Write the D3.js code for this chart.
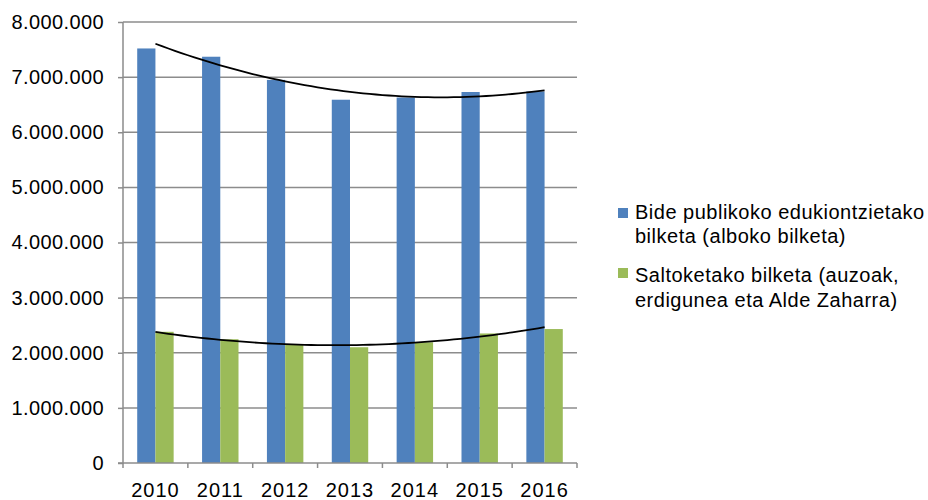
<!DOCTYPE html>
<html><head><meta charset="utf-8">
<script src="https://cdn.jsdelivr.net/npm/d3@7/dist/d3.min.js"></script>
<style>body{margin:0;background:#fff}svg{display:block}text{font-family:"Liberation Sans",Arial,sans-serif;fill:#000}</style>
</head><body><svg id="c" width="928" height="500"></svg>
<script>
const years = ["2010","2011","2012","2013","2014","2015","2016"];
const seriesNames = ["Bide publikoko edukiontzietako bilketa (alboko bilketa)", "Saltoketako bilketa (auzoak, erdigunea eta Alde Zaharra)"];
const legendLines = [["Bide publikoko edukiontzietako","bilketa (alboko bilketa)"],["Saltoketako bilketa (auzoak,","erdigunea eta Alde Zaharra)"]];
const blueValues = [7520000, 7370000, 6950000, 6590000, 6630000, 6730000, 6740000];
const greenValues = [2380000, 2245000, 2150000, 2100000, 2190000, 2350000, 2430000];
const yTicks = [0,1000000,2000000,3000000,4000000,5000000,6000000,7000000,8000000];
const colors = ["#4F81BD","#9BBB59"];

const svg = d3.select("#c");
const L=123, R=577, T=22, B=463;
const x = d3.scaleBand().domain(years).range([L,R]);
const x1 = d3.scaleBand().domain([0,1]).range([0, x.bandwidth()]).paddingOuter(0.78).paddingInner(0);
const y = d3.scaleLinear().domain([0,8000000]).range([B,T]);
const fmt = v => v===0 ? "0" : d3.format(",")(v).replace(/,/g,".");

// grid
svg.append("g").selectAll("line").data(yTicks.slice(1)).join("line")
  .attr("x1",L).attr("x2",R).attr("y1",d=>y(d)).attr("y2",d=>y(d))
  .attr("stroke","#8c8c8c").attr("stroke-width",1.5);

// bars
const series=[blueValues, greenValues];
series.forEach((vals,si)=>{
  svg.append("g").selectAll("rect").data(vals).join("rect")
    .attr("x",(d,i)=>x(years[i])+x1(si)).attr("width",x1.bandwidth())
    .attr("y",d=>y(d)).attr("height",d=>B-y(d)).attr("fill",colors[si]);
});

// axes
const yAxis = d3.axisLeft(y).tickValues(yTicks).tickFormat(fmt).tickSize(5).tickPadding(14);
const gy = svg.append("g").attr("transform",`translate(${L},0)`).call(yAxis);
gy.select(".domain").attr("stroke","#8c8c8c").attr("stroke-width",1.5).attr("d",`M-5,${B}H0V${T}`);
gy.selectAll(".tick line").attr("stroke","#8c8c8c").attr("stroke-width",1.5);
gy.selectAll("text").style("font-size","20px").style("letter-spacing","0.4px")
  .style("font-family","Liberation Sans, Arial, sans-serif").attr("fill","#000");

const gx = svg.append("g").attr("transform",`translate(0,${B})`);
gx.append("line").attr("x1",L).attr("x2",R).attr("stroke","#8c8c8c").attr("stroke-width",1.5);
gx.selectAll("line.t").data(years.concat(["end"])).join("line").attr("class","t")
  .attr("x1",(d,i)=>L+i*x.step()).attr("x2",(d,i)=>L+i*x.step()).attr("y1",0).attr("y2",5)
  .attr("stroke","#8c8c8c").attr("stroke-width",1.5);
gx.selectAll("text").data(years).join("text")
  .attr("x",d=>x(d)+x.bandwidth()/2).attr("y",34).attr("text-anchor","middle")
  .style("font-size","20px").style("letter-spacing","1px").text(d=>d);

// polynomial (order 2) trendlines computed by least squares from the data
function polyFit(vals){
  const xs=vals.map((_,i)=>i);
  const mx=d3.mean(xs);
  const p1=xs.map(v=>v-mx);
  const c=d3.mean(p1.map(v=>v*v));
  const p2=p1.map(v=>v*v-c);
  const my=d3.mean(vals);
  const b1=d3.sum(vals.map((v,i)=>v*p1[i]))/d3.sum(p1.map(v=>v*v));
  const b2=d3.sum(vals.map((v,i)=>v*p2[i]))/d3.sum(p2.map(v=>v*v));
  return t=>my+b1*(t-mx)+b2*((t-mx)*(t-mx)-c);
}
series.forEach(vals=>{
  const f=polyFit(vals);
  const pts=d3.range(0,6.0001,0.1).map(t=>[L+(t+0.5)*x.step(), y(f(t))]);
  svg.append("path").attr("d",d3.line()(pts)).attr("fill","none").attr("stroke","#000").attr("stroke-width",1.8);
});

// legend
const lg = svg.append("g");
const squareY=[208,268];
const baseY=[[219,243],[282,307]];
legendLines.forEach((lines,i)=>{
  lg.append("rect").attr("x",618).attr("y",squareY[i]).attr("width",10).attr("height",10).attr("fill",colors[i]);
  lines.forEach((ln,j)=>{
    lg.append("text").attr("x",635).attr("y",baseY[i][j]).style("font-size","20px").style("letter-spacing","0.5px").text(ln);
  });
});
</script></body></html>
